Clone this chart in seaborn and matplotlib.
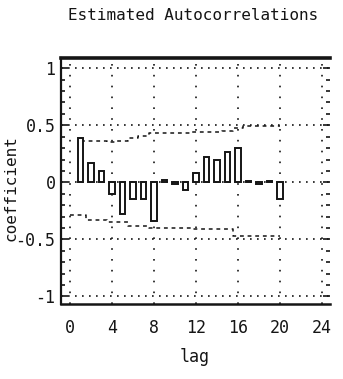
import matplotlib
matplotlib.use("Agg")
import matplotlib.pyplot as plt
from matplotlib.ticker import MultipleLocator, FixedLocator
import seaborn as sns
import pandas as pd

# ---- data ----
lags = [1, 2, 3, 4, 5, 6, 7, 8, 9, 10, 11, 12, 13, 14, 15, 16, 17, 18, 19, 20]
acf = [0.39, 0.17, 0.10, -0.10, -0.28, -0.15, -0.15, -0.34, 0.02, -0.01,
       -0.07, 0.08, 0.22, 0.20, 0.27, 0.30, 0.01, -0.01, 0.01, -0.15]

upper_lags = [1, 2, 3, 4, 5, 6, 7, 8, 9, 10, 11, 12, 13, 14, 15, 16, 17, 18, 19, 20]
upper_band = [0.36, 0.36, 0.36, 0.35, 0.36, 0.39, 0.41, 0.43, 0.43, 0.43,
              0.43, 0.44, 0.44, 0.44, 0.45, 0.48, 0.49, 0.49, 0.49, 0.49]
lower_lags = [0, 1, 2, 3, 4, 5, 6, 7, 8, 9, 10, 11, 12, 13, 14, 15, 16, 17, 18, 19, 20]
lower_band = [-0.29, -0.29, -0.33, -0.33, -0.35, -0.35, -0.38, -0.38, -0.40, -0.40,
              -0.40, -0.40, -0.41, -0.41, -0.41, -0.41, -0.47, -0.47, -0.47, -0.47, -0.47]

x_ticks = [0, 4, 8, 12, 16, 20, 24]
y_ticks = [-1, -0.5, 0, 0.5, 1]
y_tick_labels = ["-1", "-0.5", "0", "0.5", "1"]

title = "Estimated Autocorrelations"
x_label = "lag"
y_label = "coefficient"

# ---- style ----
sns.set_style("white")
plt.rcParams["font.family"] = ["DejaVu Sans Mono", "DejaVu Sans"]
INK = "#151515"

fig = plt.figure(figsize=(3.43, 3.79), dpi=100)
W, H = 343, 379
ax = fig.add_axes([61 / W, 1 - 304 / H, (330 - 61) / W, (304 - 58) / H])

df = pd.DataFrame({"lag": lags, "acf": acf})
sns.barplot(data=df, x="lag", y="acf", native_scale=True, width=0.55,
            color="white", saturation=1, edgecolor=INK, linewidth=1.4, ax=ax, zorder=3)

sns.lineplot(x=upper_lags, y=upper_band, ax=ax, color=INK, lw=1.1,
             linestyle=(0, (2.5, 2.5)), drawstyle="steps-mid", zorder=2)
sns.lineplot(x=lower_lags, y=lower_band, ax=ax, color=INK, lw=1.1,
             linestyle=(0, (2.5, 2.5)), drawstyle="steps-mid", zorder=2)

ax.set_xlim(-0.86, 24.76)
ax.set_ylim(-1.066, 1.09)

ax.xaxis.set_major_locator(FixedLocator(x_ticks))
ax.set_xticks(x_ticks)
ax.set_xticklabels([str(t) for t in x_ticks])
ax.set_yticks(y_ticks)
ax.set_yticklabels(y_tick_labels)
ax.yaxis.set_minor_locator(MultipleLocator(0.1))

ax.set_axisbelow(True)
ax.yaxis.grid(True, which="major", linestyle=(0, (1, 3.2)), lw=1.2, color=INK)
ax.xaxis.grid(True, which="major", linestyle=(0, (1, 5.5)), lw=1.2, color=INK)

ax.tick_params(axis="x", which="both", length=0, pad=11, labelsize=12, colors=INK)
ax.tick_params(axis="y", which="major", direction="in", left=True, right=True,
               length=5, width=1.2, pad=4, labelsize=12, colors=INK)
ax.tick_params(axis="y", which="minor", direction="in", left=True, right=True,
               length=3, width=1.2, colors=INK)

for side, lw in [("left", 1.6), ("bottom", 1.8), ("top", 2.6)]:
    ax.spines[side].set_visible(True)
    ax.spines[side].set_linewidth(lw)
    ax.spines[side].set_color(INK)
ax.spines["right"].set_visible(False)

ax.set_xlabel("")
ax.set_ylabel("")

fig.text(193 / W, 1 - 16 / H, title, ha="center", va="center", fontsize=11.5, color=INK)
fig.text(195 / W, 1 - 357 / H, x_label, ha="center", va="center", fontsize=12, color=INK)
fig.text(11 / W, 1 - 188 / H, y_label, ha="center", va="center", rotation=90,
         fontsize=11.5, color=INK)

fig.savefig("out.png", dpi=100, facecolor="white")
